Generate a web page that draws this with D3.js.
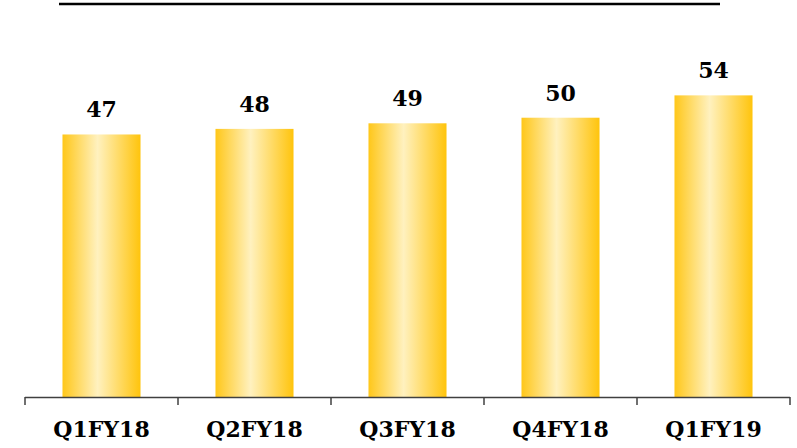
<!DOCTYPE html>
<meta charset="utf-8">
<script src="https://d3js.org/d3.v7.min.js"></script>
<style>
    body { margin: 0; background: #fff; }
    text { font-family: "DejaVu Serif", serif; font-weight: bold; }
</style>
<div id="chart"></div>
<script>
    // data
    const quarters = ["Q1FY18", "Q2FY18", "Q3FY18", "Q4FY18", "Q1FY19"];
    const values = [47, 48, 49, 50, 54];

    const W = 797, H = 448;
    const svg = d3.select("#chart").append("svg")
        .attr("width", W).attr("height", H);

    // gradient for the bars (gold - pale - gold)
    const grad = svg.append("defs").append("linearGradient")
        .attr("id", "gold").attr("x1", "0%").attr("x2", "100%").attr("y1", "0%").attr("y2", "0%");
    grad.append("stop").attr("offset", "0%").attr("stop-color", "#ffc719");
    grad.append("stop").attr("offset", "45%").attr("stop-color", "#fff1bf");
    grad.append("stop").attr("offset", "100%").attr("stop-color", "#ffc40c");

    const x = d3.scaleBand().domain(quarters).range([25, 790])
        .paddingInner(0.49).paddingOuter(0.245);
    const y = d3.scaleLinear().domain([0, 70]).range([397, 6]);

    // top rule
    svg.append("line")
        .attr("x1", 59).attr("x2", 720).attr("y1", 4).attr("y2", 4)
        .attr("stroke", "#000").attr("stroke-width", 2.5);

    // bars
    svg.selectAll("rect.bar").data(values).enter().append("rect")
        .attr("class", "bar")
        .attr("x", (d, i) => x(quarters[i]))
        .attr("y", d => y(d))
        .attr("width", x.bandwidth())
        .attr("height", d => y(0) - y(d))
        .attr("fill", "url(#gold)");

    // value labels
    svg.selectAll("text.val").data(values).enter().append("text")
        .attr("class", "val")
        .attr("x", (d, i) => x(quarters[i]) + x.bandwidth() / 2)
        .attr("y", d => y(d) - 17)
        .attr("text-anchor", "middle")
        .attr("font-size", 22)
        .attr("fill", "#000")
        .text(d => d);

    // x axis with ticks between categories
    const step = x.step();
    const ax = svg.append("g");
    ax.append("line")
        .attr("x1", 25).attr("x2", 790).attr("y1", 397.5).attr("y2", 397.5)
        .attr("stroke", "#404040").attr("stroke-width", 1.5);
    ax.selectAll("line.tick").data(d3.range(quarters.length + 1)).enter().append("line")
        .attr("class", "tick")
        .attr("x1", i => 25 + i * step).attr("x2", i => 25 + i * step)
        .attr("y1", 397).attr("y2", 405)
        .attr("stroke", "#404040").attr("stroke-width", 1.5);
    ax.selectAll("text").data(quarters).enter().append("text")
        .attr("x", d => x(d) + x.bandwidth() / 2)
        .attr("y", 437)
        .attr("text-anchor", "middle")
        .attr("font-size", 22)
        .attr("fill", "#000")
        .text(d => d);
</script>
